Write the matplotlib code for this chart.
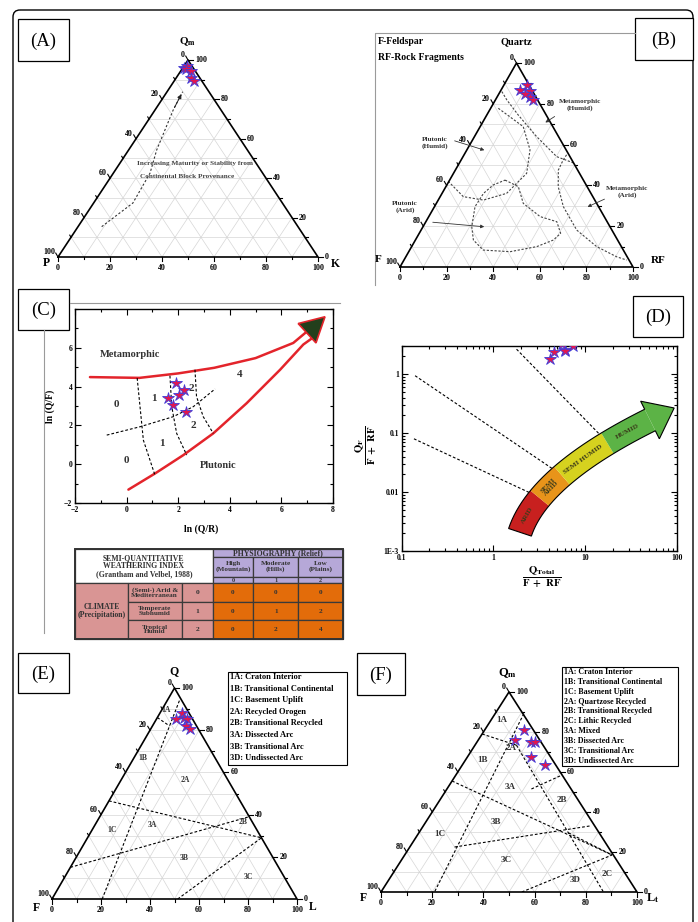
import numpy as np
import matplotlib
matplotlib.use("Agg")
import matplotlib.pyplot as plt
from matplotlib.patches import Rectangle, Polygon, FancyBboxPatch
from matplotlib.ticker import NullFormatter, MultipleLocator

plt.rcParams["font.family"] = ["Liberation Serif", "DejaVu Serif"]
plt.rcParams["font.weight"] = "bold"
plt.rcParams["mathtext.fontset"] = "stix"

W, H = 698, 922

# ---------------- data ----------------
# (A) Qm-P-K, given as (Qm, K)
a_qm = [96, 97, 95.5, 94.5, 91, 89.5]
a_k = [0.5, 1, 1.5, 4, 5.5, 7.5]
a_trend_qm = [15.4, 27.4, 42.6, 54.3, 74.6, 83.9]
a_trend_k = [9.1, 15.1, 14.1, 10.8, 7.0, 6.0]

# (B) Quartz-F-RF, given as (Q, RF)
b_q = [86.8, 89.2, 86.4, 83.2, 81.9, 85.0]
b_rf = [8.1, 9.8, 12.6, 14.2, 16.3, 11.0]
b_meta_humid_q = [86, 81.9, 74.5, 63.9, 54.1, 51]
b_meta_humid_rf = [0.7, 4.9, 13.5, 26.7, 40.2, 49]
b_plut_humid_q = [77.8, 68.8, 57.4, 45.9, 36.1, 32.8, 34.5, 41.8]
b_plut_humid_rf = [3.3, 18.5, 27.1, 31.4, 27.7, 19.4, 9.9, 0]
b_plut_arid_q = [42.6, 39.4, 31.2, 24.7, 22.2, 16.5, 13.2, 10, 7.5, 8.3, 13.2, 19.8, 29.6, 36.1, 40.2, 42.6]
b_plut_arid_rf = [23.8, 31.1, 37.3, 47.8, 56.2, 60.7, 59.2, 53.7, 43.5, 31.6, 24.9, 20.9, 17.4, 17.8, 19.9, 23.8]
b_meta_arid_q = [55, 52.5, 47.5, 39.4, 29.6, 18.1, 10, 5, 3.4]
b_meta_arid_rf = [44, 43.8, 44.2, 48.2, 55.3, 66.8, 79.4, 90.5, 95.6]

# (C) ln(Q/R) vs ln(Q/F)
c_meta_x = [-1.42, 0.5, 2.0, 3.4, 5.0, 6.46, 7.0]
c_meta_y = [4.49, 4.45, 4.68, 4.97, 5.47, 6.25, 6.85]
c_plut_x = [0.07, 1.1, 2.2, 3.36, 4.65, 5.95, 6.85, 7.25]
c_plut_y = [-1.31, -0.48, 0.47, 1.59, 3.14, 4.87, 6.17, 6.55]
c_head_x = [6.65, 7.69, 7.34]
c_head_y = [7.25, 7.6, 6.25]
c_dash_x = [[-0.77, 0.52, 1.81, 2.59, 3.43], [0.41, 0.52, 0.65, 1.1],
            [1.68, 1.75, 1.94, 2.33], [2.65, 2.71, 2.97, 3.36]]
c_dash_y = [[1.5, 1.93, 2.45, 2.97, 3.88], [4.44, 2.97, 1.24, -0.57],
            [4.56, 2.97, 1.59, 0.47], [4.87, 3.49, 2.45, 1.59]]
c_star_x = [1.9, 2.22, 1.62, 2.03, 1.79, 2.3]
c_star_y = [4.18, 3.8, 3.4, 3.58, 3.06, 2.71]
c_zone_lbl = ["0", "1", "2", "2", "1", "0", "4"]
c_zone_x = [-0.39, 1.06, 2.52, 2.59, 1.36, 0.0, 4.4]
c_zone_y = [3.06, 3.37, 3.88, 2.02, 1.07, 0.2, 4.6]

# weathering index table
tbl_relief = ["High\n(Mountain)", "Moderate\n(Hills)", "Low\n(Plains)"]
tbl_climate = ["(Semi-) Arid &\nMediterranean", "Temperate\nSubhumid", "Tropical\nHumid"]
tbl_index = [0, 1, 2]
tbl_values = [[0, 0, 0], [0, 1, 2], [0, 2, 4]]

# (D) log-log
d_star_x = [4.14, 4.58, 6.04, 6.1, 7.3, 5.6]
d_star_y = [1.8, 2.4, 2.6, 2.5, 2.95, 3.3]
d_line_x = [[1.79, 15.2], [0.14, 4.58], [0.136, 2.47]]
d_line_y = [[2.65, 0.0875], [0.94, 0.0239], [0.08, 0.0098]]
d_zones = ["ARID", "SEMI\nARID", "SEMI HUMID", "HUMID"]
d_zone_t = [0, 0.3, 0.5, 0.79, 1.0]
d_zone_col = ["#c8201f", "#e8941a", "#d6d21f", "#5cb346"]

# (E) Q-F-L, given as (Q, L)
e_q = [88, 85.5, 86, 85.5, 82, 80.5]
e_l = [9, 8, 11, 12.5, 13.5, 16]
e_line_q = [[86, 82], [94, 0], [46.5, 29], [15, 39], [0, 29]]
e_line_l = [[0, 7], [5, 20.5], [0, 71], [0, 61], [51.3, 71]]
e_fld = ["1A", "1B", "2A", "1C", "3A", "2B", "3B", "3C"]
e_fld_q = [89.4, 66.7, 56.6, 32.9, 35.1, 36.4, 19.3, 10.3]
e_fld_l = [1.9, 3.8, 26.1, 7.9, 23.4, 59.8, 44.1, 75.2]
e_legend = ["1A: Craton Interior", "1B: Transitional Continental", "1C: Basement Uplift",
            "2A: Recycled Orogen", "2B: Transitional Recycled", "3A: Dissected Arc",
            "3B: Transitional Arc", "3D: Undissected Arc"]

# (F) Qm-F-Lt, given as (Qm, Lt)
f_qm = [80.9, 75.9, 75, 75, 67.5, 63.4]
f_lt = [15.4, 14.3, 21, 22.6, 25, 32.3]
f_line_qm = [[79, 73.4], [89.2, 0], [73.4, 0], [55.5, 18.5], [51.5, 58.5], [22.5, 33], [29.6, 18.5], [0, 18.5]]
f_line_lt = [[0, 16.2], [11.2, 20.9], [16.2, 86.9], [0, 81], [33, 41.5], [17.5, 65], [58.4, 81], [55, 81]]
f_fld = ["1A", "2A", "1B", "3A", "2B", "3B", "1C", "3C", "3D", "2C"]
f_fld_qm = [85.9, 72.2, 65.9, 52.5, 45.9, 35, 29.2, 15.9, 5.9, 9.2]
f_fld_lt = [4.1, 14.9, 6.6, 24.1, 47.6, 27.3, 8.5, 41, 72.9, 83.6]
f_legend = ["1A: Craton Interior", "1B: Transitional Continental", "1C: Basement Uplift",
            "2A: Quartzose Recycled", "2B: Transitional Recycled", "2C: Lithic Recycled",
            "3A: Mixed", "3B: Dissected Arc", "3C: Transitional Arc", "3D: Undissected Arc"]

STAR = dict(ls="none", marker="*", ms=9, mfc="#e0184f", mec="#3d3ddb", mew=0.6, zorder=6)

fig = plt.figure(figsize=(W / 100, H / 100), dpi=100)


def px_axes(l, t, r, b):
    return fig.add_axes([l / W, 1 - b / H, (r - l) / W, (b - t) / H])


def txy(top, right):
    top = np.asarray(top, float)
    right = np.asarray(right, float)
    return right + top / 2, top


def ternary(l, t, r, b):
    ax = px_axes(l, t, r, b)
    ax.set_xlim(0, 100)
    ax.set_ylim(0, 100)
    ax.axis("off")
    sx, sy = 100 / (r - l), 100 / (b - t)
    for v in range(10, 100, 10):
        for tops, rights in [([v, v], [0, 100 - v]), ([0, 100 - v], [v, v]), ([0, 100 - v], [100 - v, 0])]:
            ax.plot(*txy(tops, rights), color="#d6d6d6", lw=0.5, zorder=1)
    ax.plot(*txy([0, 0, 100, 0], [0, 100, 0, 0]), color="k", lw=1.2, zorder=4, clip_on=False)
    for v in range(0, 101, 10):
        L = 4.5 if v % 20 == 0 else 2.5
        kw = dict(color="k", lw=0.8, clip_on=False, zorder=4)
        ax.plot([v, v], [0, -L * sy], **kw)
        ax.plot([100 - v / 2, 100 - v / 2 + L * sx], [v, v], **kw)
        ax.plot([v / 2, v / 2 - 0.5 * L * sx], [v, v + 0.87 * L * sy], **kw)
        if v % 20 == 0:
            ax.text(v, -6.5 * sy, str(v), ha="center", va="top", fontsize=5.8)
            ax.text(100 - v / 2 + 7 * sx, v, str(v), ha="left", va="center", fontsize=5.8)
            ax.text(v / 2 - 3 * sx, v + 5 * sy, str(100 - v), ha="right", va="center", fontsize=5.8)
    return ax


DASH = dict(color="k", lw=0.8, ls=(0, (2.5, 1.8)), zorder=3)

# ---------------- (A) ----------------
axa = ternary(58, 60, 318, 257)
tx, ty = txy(a_trend_qm, a_trend_k)
axa.plot(tx, ty, color="#333", lw=0.8, ls=(0, (2, 1.8)))
axa.annotate("", xy=(tx[-1], ty[-1]), xytext=(tx[-2], ty[-2]),
             arrowprops=dict(arrowstyle="-|>", color="#222", lw=0.7, mutation_scale=6))
axa.plot(*txy(a_qm, a_k), clip_on=False, **STAR)

# ---------------- (B) ----------------
axb = ternary(400, 63, 633, 267)
for qq, rr in [(b_meta_humid_q, b_meta_humid_rf), (b_plut_humid_q, b_plut_humid_rf),
               (b_plut_arid_q, b_plut_arid_rf), (b_meta_arid_q, b_meta_arid_rf)]:
    axb.plot(*txy(qq, rr), color="#444", lw=0.8, ls=(0, (2, 1.5)), zorder=3)
axb.plot(*txy(b_q, b_rf), clip_on=False, **STAR)

# ---------------- (C) ----------------
axc = px_axes(75, 309, 333, 503)
axc.set_xlim(-2, 8)
axc.set_ylim(-2, 8)
axc.plot(c_meta_x, c_meta_y, color="#e3242b", lw=1.8, solid_capstyle="round")
axc.plot(c_plut_x, c_plut_y, color="#e3242b", lw=1.8, solid_capstyle="round")
axc.add_patch(Polygon(np.column_stack([c_head_x, c_head_y]), closed=True, fc="#233f1c",
                      ec="#e3242b", lw=1.2, zorder=4, clip_on=False))
for xs, ys in zip(c_dash_x, c_dash_y):
    axc.plot(xs, ys, **DASH)
axc.plot(c_star_x, c_star_y, **STAR)
for s, x, y in zip(c_zone_lbl, c_zone_x, c_zone_y):
    axc.text(x, y, s, ha="center", va="center", fontsize=8, color="#333")
axc.text(0.13, 5.68, "Metamorphic", ha="center", va="center", fontsize=7.5, color="#333")
axc.text(3.56, -0.09, "Plutonic", ha="center", va="center", fontsize=7.5, color="#333")
axc.set_xticks([-2, 0, 2, 4, 6, 8])
axc.set_yticks([-2, 0, 2, 4, 6])
axc.xaxis.set_minor_locator(MultipleLocator(1))
axc.yaxis.set_minor_locator(MultipleLocator(1))
axc.tick_params(which="both", direction="in", top=True, right=True, labelsize=5.5, width=0.8, pad=2)
axc.tick_params(which="major", length=4)
axc.tick_params(which="minor", length=2)
for sp in axc.spines.values():
    sp.set_linewidth(1.0)

# ---------------- (D) ----------------
axd = px_axes(401.7, 346, 676.7, 551)
axd.set_xscale("log")
axd.set_yscale("log")
axd.set_xlim(0.1, 100)
axd.set_ylim(1e-3, 3)
axd.set_xticks([0.1, 1, 10, 100], ["0.1", "1", "10", "100"])
axd.set_yticks([1e-3, 1e-2, 1e-1, 1], ["1E-3", "0.01", "0.1", "1"])
axd.xaxis.set_minor_formatter(NullFormatter())
axd.yaxis.set_minor_formatter(NullFormatter())
axd.tick_params(which="both", direction="in", top=True, right=True, labelsize=5.5, width=0.8, pad=2)
axd.tick_params(which="major", length=4)
axd.tick_params(which="minor", length=2)
for sp in axd.spines.values():
    sp.set_linewidth(1.0)
for xs, ys in zip(d_line_x, d_line_y):
    axd.plot(xs, ys, **DASH)
axd.plot(d_star_x, d_star_y, **STAR)

# curved climate arrow, built in axes pixels (275 x 205)
dw, dh = 275.0, 205.0
P0, P1, P2 = np.array([118.3, 18.7]), np.array([137.3, 75.8]), np.array([248.3, 131.0])


def bez(t):
    t = np.atleast_1d(t)[:, None]
    return (1 - t) ** 2 * P0 + 2 * t * (1 - t) * P1 + t ** 2 * P2


def bez_d(t):
    t = np.atleast_1d(t)[:, None]
    d = 2 * (1 - t) * (P1 - P0) + 2 * t * (P2 - P1)
    return d / np.linalg.norm(d, axis=1)[:, None]


def band(t0, t1, hw=12):
    t = np.linspace(t0, t1, 30)
    p, d = bez(t), bez_d(t)
    n = np.column_stack([-d[:, 1], d[:, 0]])
    return p + hw * n, p - hw * n


scale = np.array([dw, dh])
for i in range(4):
    up, lo = band(d_zone_t[i], d_zone_t[i + 1])
    axd.add_patch(Polygon(np.vstack([up, lo[::-1]]) / scale, closed=True, fc=d_zone_col[i],
                          ec="none", transform=axd.transAxes, zorder=3))
pe = bez(1.0)[0]
de = bez_d(1.0)[0]
ne = np.array([-de[1], de[0]])
head = np.array([pe + 21 * ne, pe + 27 * de, pe - 21 * ne])
axd.add_patch(Polygon(head / scale, closed=True, fc=d_zone_col[3], ec="none",
                      transform=axd.transAxes, zorder=3))
up, lo = band(0, 1)
outline = np.vstack([up, head, lo[::-1]])
axd.add_patch(Polygon(outline / scale, closed=True, fill=False, ec="k", lw=0.8,
                      transform=axd.transAxes, zorder=4))
for i, name in enumerate(d_zones):
    tm = 0.5 * (d_zone_t[i] + d_zone_t[i + 1])
    p = bez(tm)[0] / scale
    d = bez_d(tm)[0]
    axd.text(p[0], p[1], name, transform=axd.transAxes, rotation=np.degrees(np.arctan2(d[1], d[0])),
             rotation_mode="anchor", ha="center", va="center", fontsize=5.2, color="#3a3a1a",
             linespacing=0.9, zorder=5)

# ---------------- (E) ----------------
axe = ternary(52, 688, 297, 899)
for qq, ll in zip(e_line_q, e_line_l):
    axe.plot(*txy(qq, ll), **DASH)
for s, qq, ll in zip(e_fld, e_fld_q, e_fld_l):
    axe.text(*txy(qq, ll), s, ha="center", va="center", fontsize=5.5, color="#333")
axe.plot(*txy(e_q, e_l), clip_on=False, **STAR)

# ---------------- (F) ----------------
axf = ternary(381, 692, 637, 892)
for qq, ll in zip(f_line_qm, f_line_lt):
    axf.plot(*txy(qq, ll), **DASH)
for s, qq, ll in zip(f_fld, f_fld_qm, f_fld_lt):
    axf.text(*txy(qq, ll), s, ha="center", va="center", fontsize=6.5, color="#333")
axf.plot(*txy(f_qm, f_lt), clip_on=False, **STAR)

# ---------------- overlay (frames, labels, table, legends) ----------------
ax0 = fig.add_axes([0, 0, 1, 1], zorder=10)
ax0.set_xlim(0, W)
ax0.set_ylim(H, 0)
ax0.axis("off")

ax0.add_patch(FancyBboxPatch((13, 10), 680, 950, boxstyle="round,pad=0,rounding_size=7",
                             fill=False, ec="k", lw=1.0, clip_on=False))
ax0.plot([375, 375, 635], [285, 33, 33], color="#9a9a9a", lw=0.8)
ax0.plot([70, 340], [303, 303], color="#9a9a9a", lw=0.8)
ax0.plot([44, 44], [330, 633], color="#9a9a9a", lw=0.8)

for lbl, (l, t, r, b) in [("(A)", (18, 19, 69, 61)), ("(B)", (635, 18, 693, 60)),
                          ("(C)", (18, 289, 69, 330)), ("(D)", (633, 296, 683, 337)),
                          ("(E)", (18, 653, 69, 693)), ("(F)", (357, 653, 405, 695))]:
    ax0.add_patch(Rectangle((l, t), r - l, b - t, fc="white", ec="k", lw=0.9))
    ax0.text((l + r) / 2, (t + b) / 2 + 1, lbl, ha="center", va="center", fontsize=13.5, fontweight="normal")

# vertex labels
ax0.text(188, 42, r"Q$_{\mathbf{m}}$", ha="center", va="center", fontsize=8)
ax0.text(46, 263, "P", ha="center", va="center", fontsize=8.5)
ax0.text(335, 264, "K", ha="center", va="center", fontsize=8.5)
ax0.text(516, 42, "Quartz", ha="center", va="center", fontsize=7.5)
ax0.text(378, 259, "F", ha="center", va="center", fontsize=8)
ax0.text(658, 260, "RF", ha="center", va="center", fontsize=8)
ax0.text(174, 671, "Q", ha="center", va="center", fontsize=8.5)
ax0.text(36, 908, "F", ha="center", va="center", fontsize=8.5)
ax0.text(313, 907, "L", ha="center", va="center", fontsize=8.5)
ax0.text(508, 673, r"Q$_{\mathbf{m}}$", ha="center", va="center", fontsize=9)
ax0.text(363, 898, "F", ha="center", va="center", fontsize=8.5)
ax0.text(653, 898, r"L$_{\mathbf{t}}$", ha="center", va="center", fontsize=9)

# (A) note
ax0.text(195, 163, "Increasing Maturity or Stability from", ha="center", va="center", fontsize=5.2, color="#444")
ax0.text(187, 176, "Continental Block Provenance", ha="center", va="center", fontsize=5.2, color="#444")

# (B) notes
ax0.text(378, 42, "F-Feldspar", ha="left", va="center", fontsize=7)
ax0.text(378, 57, "RF-Rock Fragments", ha="left", va="center", fontsize=7)
for txt, pos, a0, a1 in [("Metamorphic\n(Humid)", (580, 105), (557, 115), (543, 124)),
                         ("Plutonic\n(Humid)", (435, 143), (452, 140), (487, 151)),
                         ("Metamorphic\n(Arid)", (627, 192), (607, 198), (585, 208)),
                         ("Plutonic\n(Arid)", (405, 207), (430, 222), (487, 227))]:
    ax0.text(*pos, txt, ha="center", va="center", fontsize=5.2, color="#333", linespacing=1.3)
    ax0.annotate("", xy=a1, xytext=a0,
                 arrowprops=dict(arrowstyle="-|>", color="#333", lw=0.6, mutation_scale=5))

# (C) axis labels
ax0.text(201, 529, "ln (Q/R)", ha="center", va="center", fontsize=7)
ax0.text(50, 406, "ln (Q/F)", ha="center", va="center", fontsize=7, rotation=90)

# (D) axis labels
ax0.text(541.7, 577, r"$\frac{\mathbf{Q}_{\mathbf{Total}}}{\mathbf{F\ +\ RF}}$", ha="center", va="center", fontsize=11)
ax0.text(366, 445, r"$\frac{\mathbf{Q}_{\mathbf{F}}}{\mathbf{F\ +\ RF}}$", ha="center", va="center",
         fontsize=11, rotation=90)

# table
cx = [75, 127.7, 181.7, 212.7, 253.3, 298.3, 343]
ry = [549, 556.7, 576.7, 583.3, 602.3, 620, 639]
PURPLE, PINK, ORANGE = "#b6a8d8", "#d99594", "#e36c0a"


def cell(c0, c1, r0, r1, fc, txt, fs=5.0):
    ax0.add_patch(Rectangle((cx[c0], ry[r0]), cx[c1] - cx[c0], ry[r1] - ry[r0], fc=fc, ec="#3a3a3a", lw=0.9))
    ax0.text((cx[c0] + cx[c1]) / 2, (ry[r0] + ry[r1]) / 2, txt, ha="center", va="center",
             fontsize=fs, color="#333", linespacing=0.95)


cell(0, 3, 0, 3, "white", "SEMI-QUANTITATIVE\nWEATHERING INDEX\n(Grantham and Velbel, 1988)", fs=5.6)
cell(3, 6, 0, 1, PURPLE, "PHYSIOGRAPHY (Relief)", fs=5.6)
for j in range(3):
    cell(3 + j, 4 + j, 1, 2, PURPLE, tbl_relief[j], fs=5.2)
    cell(3 + j, 4 + j, 2, 3, PURPLE, str(tbl_index[j]), fs=4.5)
cell(0, 1, 3, 6, PINK, "CLIMATE\n(Precipitation)", fs=5.6)
for i in range(3):
    cell(1, 2, 3 + i, 4 + i, PINK, tbl_climate[i], fs=5.2)
    cell(2, 3, 3 + i, 4 + i, PINK, str(tbl_index[i]), fs=5.4)
    for j in range(3):
        cell(3 + j, 4 + j, 3 + i, 4 + i, ORANGE, str(tbl_values[i][j]), fs=5.2)
ax0.add_patch(Rectangle((cx[0], ry[0]), cx[-1] - cx[0], ry[-1] - ry[0], fill=False, ec="#333", lw=1.4))

# legends
ax0.add_patch(Rectangle((228.3, 671.7), 119, 93.3, fc="white", ec="k", lw=0.8))
for i, s in enumerate(e_legend):
    ax0.text(230.5, 677 + i * 11.6, s, ha="left", va="center", fontsize=6)
ax0.add_patch(Rectangle((561.7, 666.7), 116.6, 99.3, fc="white", ec="k", lw=0.8))
for i, s in enumerate(f_legend):
    ax0.text(563.5, 672 + i * 9.85, s, ha="left", va="center", fontsize=5.8)

fig.savefig("out.png", dpi=100)
